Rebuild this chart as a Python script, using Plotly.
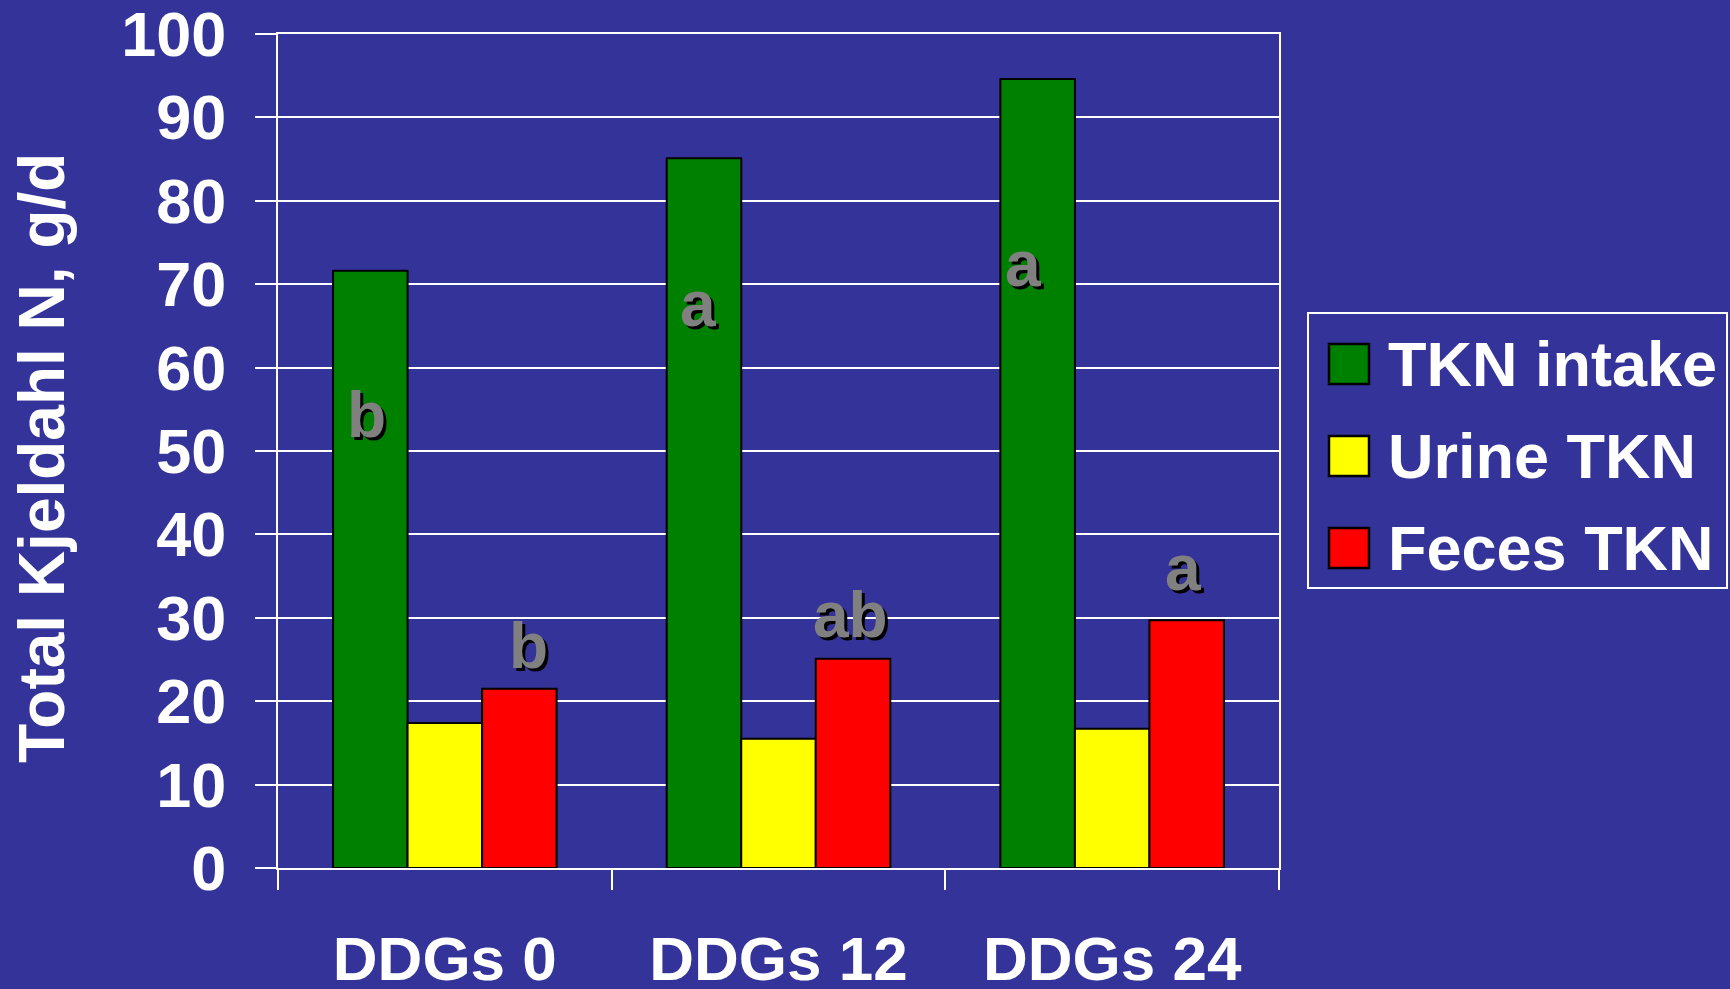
import plotly.graph_objects as go

# ---------------- data ----------------
categories = ["DDGs 0", "DDGs 12", "DDGs 24"]
series_names = ["TKN intake", "Urine TKN", "Feces TKN"]
tkn_intake = [71.6, 85.1, 94.6]
urine_tkn = [17.4, 15.5, 16.7]
feces_tkn = [21.5, 25.1, 29.7]
series_values = [tkn_intake, urine_tkn, feces_tkn]
series_colors = ["#008000", "#FFFF00", "#FF0000"]

# significance letters (value-axis height where each letter sits)
intake_letters = ["b", "a", "a"]
intake_letter_y = [54.3, 67.6, 72.4]
feces_letters = ["b", "ab", "a"]
feces_letter_y = [26.6, 30.3, 36.0]
# small horizontal nudges of the letters (px)
intake_letter_dx = [-4, -6, -15]
feces_letter_dx = [9, -3, -4]

y_tick_vals = [0, 10, 20, 30, 40, 50, 60, 70, 80, 90, 100]
y_title = "Total Kjeldahl N, g/d"

# ---------------- layout geometry ----------------
W, H = 1730, 989
ML, MR, MT, MB = 278, 451, 34, 121
PW = W - ML - MR
PH = H - MT - MB
BARGAP = 0.33
FONT = "Arial, Liberation Sans, sans-serif"
BG = "#333399"


def px_x(px):
    return (px - ML) / PW


def px_y(py):
    return (H - MB - py) / PH


bar_w = PW / len(categories) * (1 - BARGAP) / len(series_names)

fig = go.Figure()
for name, vals, col in zip(series_names, series_values, series_colors):
    fig.add_trace(go.Bar(
        x=categories, y=vals, name=name,
        marker=dict(color=col, line=dict(color="black", width=2)),
        showlegend=False,
    ))

annotations = []
letter_font = dict(family=FONT, size=64, color="#808080", weight="bold",
                   shadow="3px 3px 0px #000000")
for i, cat in enumerate(categories):
    annotations.append(dict(x=cat, y=intake_letter_y[i], xref="x", yref="y",
                            text=intake_letters[i], showarrow=False,
                            xshift=-bar_w + intake_letter_dx[i],
                            xanchor="center", yanchor="middle", font=letter_font))
    annotations.append(dict(x=cat, y=feces_letter_y[i], xref="x", yref="y",
                            text=feces_letters[i], showarrow=False,
                            xshift=bar_w + feces_letter_dx[i],
                            xanchor="center", yanchor="middle", font=letter_font))

# y-axis title
annotations.append(dict(x=px_x(42), y=px_y(458), xref="paper", yref="paper",
                        text=y_title, textangle=-90, showarrow=False,
                        xanchor="center", yanchor="middle",
                        font=dict(family=FONT, size=64, color="white", weight="bold")))

# custom legend
shapes = [dict(type="rect", xref="paper", yref="paper",
               x0=px_x(1308), x1=px_x(1727), y0=px_y(588), y1=px_y(313),
               line=dict(color="white", width=2), fillcolor="rgba(0,0,0,0)")]
row_centers = [364, 456, 548]
for name, col, cy in zip(series_names, series_colors, row_centers):
    shapes.append(dict(type="rect", xref="paper", yref="paper",
                       x0=px_x(1329), x1=px_x(1369), y0=px_y(cy + 20), y1=px_y(cy - 20),
                       line=dict(color="black", width=2.5), fillcolor=col))
    annotations.append(dict(x=px_x(1386), y=px_y(cy), xref="paper", yref="paper",
                            text=name, showarrow=False, xanchor="left", yanchor="middle",
                            font=dict(family=FONT, size=63, color="white", weight="bold")))

fig.update_layout(
    width=W, height=H,
    margin=dict(l=ML, r=MR, t=MT, b=MB, autoexpand=False),
    paper_bgcolor=BG, plot_bgcolor=BG,
    barmode="group", bargap=BARGAP, bargroupgap=0,
    showlegend=False,
    annotations=annotations, shapes=shapes,
    xaxis=dict(
        type="category", showline=True, linecolor="white", linewidth=2, mirror=True,
        ticks="outside", tickson="boundaries", ticklen=20, tickwidth=2, tickcolor="white",
        showgrid=False, zeroline=False,
        tickfont=dict(family=FONT, size=62, color="white", weight="bold"),
        ticklabelstandoff=36, ticklabeloverflow="allow",
    ),
    yaxis=dict(
        range=[0, 100], tickvals=y_tick_vals, showgrid=True, gridcolor="white", gridwidth=2,
        showline=True, linecolor="white", linewidth=2, mirror=True, zeroline=False,
        ticks="outside", ticklen=21, tickwidth=2, tickcolor="white",
        tickfont=dict(family=FONT, size=63, color="white", weight="bold"),
        ticklabelstandoff=16, ticklabeloverflow="allow",
    ),
)

fig.write_html("out.html")
